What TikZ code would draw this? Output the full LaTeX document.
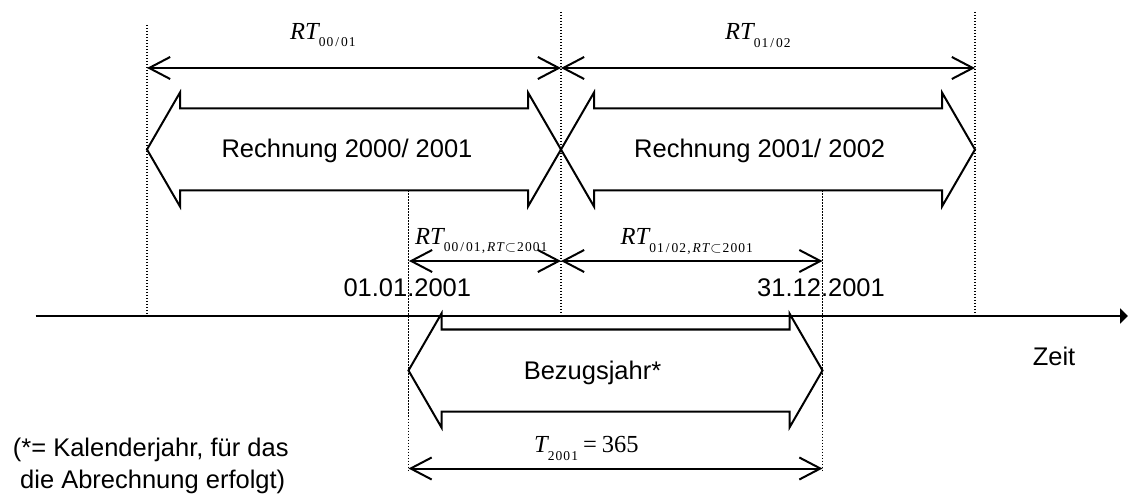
\documentclass[tikz,border=0pt]{standalone}
\usepackage{fontspec}
\setmainfont{Liberation Sans}
\newfontfamily\tnr{Liberation Serif}
\newfontfamily\tnrsub[LetterSpace=8]{Liberation Serif}
\usetikzlibrary{arrows.meta}
\newcommand{\subtxt}[1]{\raisebox{-7.5pt}{\tnrsub\fontsize{13.5}{14}\selectfont #1}}
\newcommand{\RTsym}{{\tnr\itshape RT}}
\newcommand{\dblarrow}[3]{%
  \draw[blockarrow] (#1,#3) -- ({#1+33},{#3-57}) -- ({#1+33},{#3-41}) -- ({#2-33},{#3-41})
    -- ({#2-33},{#3-57}) -- (#2,#3) -- ({#2-33},{#3+57}) -- ({#2-33},{#3+41})
    -- ({#1+33},{#3+41}) -- ({#1+33},{#3+57}) -- cycle;}
\begin{document}
\begin{tikzpicture}[x=1pt,y=-1pt,
  lbl/.style={inner sep=0pt, font=\fontsize{25.5}{30}\selectfont},
  mlbl/.style={inner sep=0pt, font=\tnr\fontsize{24.5}{28}\selectfont},
  guide/.style={line width=1.4pt, dash pattern=on 1.4pt off 1.6pt},
  span/.style={line width=2pt, {Straight Barb[length=21pt,width=22pt]}-{Straight Barb[length=21pt,width=22pt]}},
  blockarrow/.style={line width=2pt, fill=white, line join=miter},
  axisline/.style={line width=2.2pt, -{Triangle[length=8pt,width=15pt]}}]
\useasboundingbox (0,0) rectangle (1128,497);

% named coordinates
\coordinate (a0) at (147,68);   \coordinate (a1) at (561,68);   \coordinate (a2) at (975,68);
\coordinate (b0) at (409,261);  \coordinate (b1) at (561,261);  \coordinate (b2) at (822.5,261);
\coordinate (c0) at (408.5,468.5); \coordinate (c1) at (822.5,468.5);
\coordinate (ax0) at (35.7,316); \coordinate (ax1) at (1128,316);

% block arrows
\dblarrow{147}{561}{149.5}
\dblarrow{561}{975}{149.5}
\dblarrow{408.5}{822.5}{370.5}

% dotted guides
\draw[guide] (147,25) -- (147,316);
\draw[guide] (561,12) -- (561,316);
\draw[guide] (975,12) -- (975,316);
\draw[guide] (408.5,190.5) -- (408.5,470);
\draw[guide] (822.5,190.5) -- (822.5,470);

% axis
\draw[axisline] (ax0) -- (ax1);

% spans
\draw[span] (a0) -- (a1);
\draw[span] (a1) -- (a2);
\draw[span] (b0) -- (b1);
\draw[span] (b1) -- (b2);
\draw[span] (c0) -- (c1);

% texts
\node[lbl, anchor=base] (r1) at (347,157.3) {Rechnung 2000/ 2001};
\node[lbl, anchor=base] (r2) at (759.7,157.3) {Rechnung 2001/ 2002};
\node[lbl, anchor=base] (bz) at (592.5,379) {Bezugsjahr*};
\node[lbl, anchor=base] (zt) at (1054,365.7) {Zeit};
\node[lbl, anchor=base west] (d1) at (343.3,296.7) {01.01.2001};
\node[lbl, anchor=base west] (d2) at (757,296.5) {31.12.2001};
\node[lbl, anchor=base west] (f1) at (12.7,456.7) {(*= Kalenderjahr, für das};
\node[lbl, anchor=base west] (f2) at (20,488.3) {die Abrechnung erfolgt)};

\node[mlbl, anchor=base west] (l1) at (290,39.3) {\RTsym\subtxt{00\kern2pt/\kern2pt01}};
\node[mlbl, anchor=base west] (l2) at (725,39.8) {\RTsym\subtxt{01\kern2pt/\kern2pt02}};
\node[mlbl, anchor=base west] (l3) at (415,244.3) {\RTsym\subtxt{00\kern2pt/\kern2pt01,\kern2pt{\itshape RT}\kern1pt$\subset$\kern1pt2001}};
\node[mlbl, anchor=base west] (l4) at (620.5,244.8) {\RTsym\subtxt{01\kern2pt/\kern2pt02,\kern2pt{\itshape RT}\kern1pt$\subset$\kern1pt2001}};
\node[mlbl, anchor=base west] (l5) at (534,452.7) {{\itshape T}\subtxt{2001}\kern5pt=\kern5pt365};
\end{tikzpicture}
\end{document}
